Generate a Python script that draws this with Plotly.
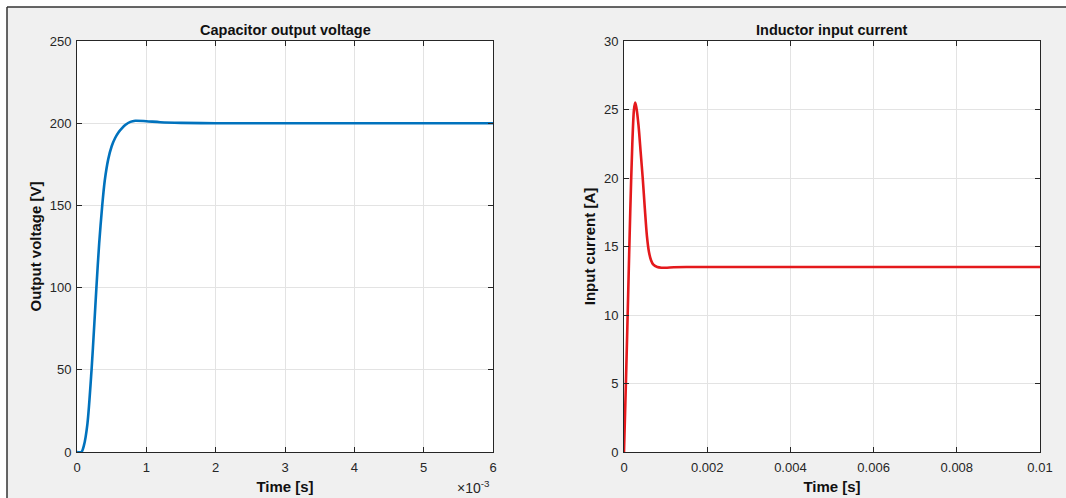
import plotly.graph_objects as go

# ---- data ----
t_v_ms = [0, 0.064, 0.1, 0.15, 0.21, 0.25, 0.28, 0.32, 0.364, 0.4, 0.45, 0.5, 0.55, 0.6, 0.65, 0.7, 0.77, 0.84,
          1.0, 1.2, 1.5, 2.0, 3.0, 4.0, 5.0, 6.0]
voltage = [0, 0, 4, 17, 50, 78, 100, 127, 150, 165, 178, 186, 191, 194.5, 197, 199, 200.8, 201.5,
           201.2, 200.6, 200.2, 200, 200, 200, 200, 200]

t_i = [0, 0.00005, 0.0001, 0.00015, 0.0002, 0.00024, 0.00027, 0.0003, 0.00035, 0.0004, 0.00045, 0.0005,
       0.00055, 0.0006, 0.00065, 0.0007, 0.0008, 0.0009, 0.001, 0.0012, 0.0015, 0.002, 0.005, 0.01]
current = [0, 5.5, 11.5, 17.5, 22.5, 25.0, 25.5, 25.1, 23.8, 21.9, 20.0, 17.8,
           15.8, 14.6, 14.0, 13.7, 13.5, 13.45, 13.45, 13.48, 13.5, 13.5, 13.5, 13.5]

left_xticks_ms = [0, 1, 2, 3, 4, 5, 6]
left_yticks = [0, 50, 100, 150, 200, 250]
right_xticks = [0, 0.002, 0.004, 0.006, 0.008, 0.01]
right_xtick_text = ["0", "0.002", "0.004", "0.006", "0.008", "0.01"]
right_yticks = [0, 5, 10, 15, 20, 25, 30]

t_v = [v * 1e-3 for v in t_v_ms]

W, H = 1066, 498
FONT = "Liberation Sans, Arial, sans-serif"
AX = "#262626"
GRID = "#e3e3e3"

def px_x(p):
    return p / W

def px_y(p):
    return 1 - p / H

fig = go.Figure()
fig.add_trace(go.Scatter(x=t_v, y=voltage, mode="lines", line=dict(color="#0072BD", width=2.6, shape="spline", smoothing=0.8),
                         xaxis="x", yaxis="y", showlegend=False))
fig.add_trace(go.Scatter(x=t_i, y=current, mode="lines", line=dict(color="#E4191C", width=2.6, shape="spline", smoothing=0.8),
                         xaxis="x2", yaxis="y2", showlegend=False))

common = dict(showline=True, linecolor=AX, linewidth=1, mirror="ticks", ticks="inside", ticklen=5,
              tickcolor=AX, showgrid=True, gridcolor=GRID, gridwidth=1, zeroline=False, automargin=False,
              tickfont=dict(family=FONT, size=13, color=AX))
ydom = [px_y(452), px_y(41)]
tfont = dict(family=FONT, size=15, color="#111")

fig.update_layout(
    width=W, height=H,
    margin=dict(l=0, r=0, t=0, b=0),
    paper_bgcolor="#f0f0f0", plot_bgcolor="white",
    xaxis=dict(domain=[px_x(77), px_x(493)], range=[0, 6e-3], tickvals=[v * 1e-3 for v in left_xticks_ms],
               ticktext=[str(v) for v in left_xticks_ms], anchor="y", ticklabelstandoff=3,
               title=dict(text="<b>Time [s]</b>", font=tfont, standoff=7), **common),
    yaxis=dict(domain=ydom, range=[0, 250], tickvals=left_yticks, anchor="x", ticklabelstandoff=2,
               title=dict(text="<b>Output voltage [V]</b>", font=tfont, standoff=4), **common),
    xaxis2=dict(domain=[px_x(624), px_x(1040)], range=[0, 0.01], tickvals=right_xticks,
                ticktext=right_xtick_text, anchor="y2", ticklabelstandoff=3,
                title=dict(text="<b>Time [s]</b>", font=tfont, standoff=7), **common),
    yaxis2=dict(domain=ydom, range=[0, 30], tickvals=right_yticks, anchor="x2", ticklabelstandoff=2,
                title=dict(text="<b>Input current [A]</b>", font=tfont, standoff=4), **common),
)

# subplot titles
fig.add_annotation(text="<b>Capacitor output voltage</b>", x=px_x(285), y=px_y(30), xref="paper", yref="paper",
                   showarrow=False, font=dict(family=FONT, size=14.5, color="#111"), xanchor="center", yanchor="middle")
fig.add_annotation(text="<b>Inductor input current</b>", x=px_x(832), y=px_y(30), xref="paper", yref="paper",
                   showarrow=False, font=dict(family=FONT, size=14.5, color="#111"), xanchor="center", yanchor="middle")
# exponent label
fig.add_annotation(text="×10<sup>-3</sup>", x=px_x(492), y=px_y(487), xref="paper", yref="paper",
                   showarrow=False, font=dict(family=FONT, size=14, color=AX), xanchor="right", yanchor="middle")

# white margin strips and window border
fig.add_shape(type="rect", xref="paper", yref="paper", x0=0, x1=1, y0=px_y(7), y1=1, fillcolor="white", line_width=0)
fig.add_shape(type="rect", xref="paper", yref="paper", x0=0, x1=px_x(7), y0=0, y1=1, fillcolor="white", line_width=0)
fig.add_shape(type="line", xref="paper", yref="paper", x0=px_x(7), x1=1, y0=px_y(7), y1=px_y(7), line=dict(color="#333", width=1.5))
fig.add_shape(type="line", xref="paper", yref="paper", x0=px_x(7), x1=px_x(7), y0=0, y1=px_y(7), line=dict(color="#333", width=1.5))

fig.write_html("out.html", config={"displayModeBar": False},
               post_script="document.body.style.margin='0';document.body.style.overflow='hidden';")
